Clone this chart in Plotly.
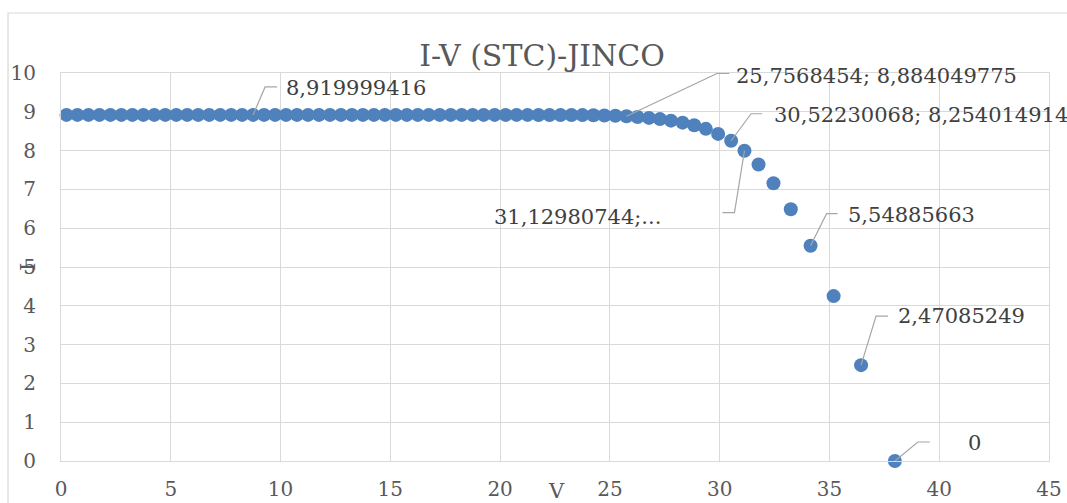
import plotly.graph_objects as go

# I-V curve of the JINCO module at STC
voltage = [
    0.25, 0.75, 1.25, 1.75, 2.25, 2.75, 3.25, 3.75, 4.25, 4.75,
    5.25, 5.75, 6.25, 6.75, 7.25, 7.75, 8.25, 8.75, 9.25, 9.75,
    10.25, 10.75, 11.25, 11.75, 12.25, 12.75, 13.25, 13.75, 14.25, 14.75,
    15.25, 15.75, 16.25, 16.75, 17.25, 17.75, 18.25, 18.75, 19.25, 19.75,
    20.25, 20.75, 21.25, 21.75, 22.25, 22.75, 23.25, 23.75, 24.25, 24.75,
    25.25, 25.7568454, 26.26, 26.78, 27.28, 27.78, 28.31, 28.84, 29.37, 29.93,
    30.52230068, 31.12980744, 31.77, 32.45, 33.24, 34.14, 35.19, 36.44, 37.98,
]
current = [
    8.92, 8.92, 8.92, 8.92, 8.92, 8.92, 8.92, 8.92, 8.92, 8.92,
    8.92, 8.92, 8.92, 8.92, 8.92, 8.92, 8.92, 8.919999416, 8.92, 8.92,
    8.92, 8.92, 8.92, 8.92, 8.92, 8.92, 8.92, 8.92, 8.92, 8.92,
    8.92, 8.92, 8.92, 8.92, 8.92, 8.92, 8.92, 8.92, 8.92, 8.92,
    8.9199, 8.9198, 8.9196, 8.9193, 8.9188, 8.918, 8.9168, 8.915, 8.912, 8.906,
    8.897, 8.884049775, 8.866, 8.843, 8.812, 8.772, 8.72, 8.652, 8.56, 8.43,
    8.254014914, 7.998, 7.64, 7.16, 6.49, 5.54885663, 4.25, 2.47085249, 0,
]

x_ticks = [0, 5, 10, 15, 20, 25, 30, 35, 40, 45]
y_ticks = [0, 1, 2, 3, 4, 5, 6, 7, 8, 9, 10]

# labelled points: index, label kind
labelled = [
    (17, "y"),
    (51, "xy"),
    (60, "xy"),
    (61, "x_cut"),
    (65, "y"),
    (67, "y"),
    (68, "y"),
]

# leader/label geometry in pixels: elbow (dx, dy), end of horizontal tick, text shift
leader_geom = {
    17: dict(elbow=(12, 28), end=24, text=(31, 27), anchor="left"),
    51: dict(elbow=(91, 43), end=103, text=(107, 40), anchor="left"),
    60: dict(elbow=(20, 27), end=31, text=(41, 26), anchor="left"),
    61: dict(elbow=(-10, -62), end=-22, text=(-81, -66), anchor="right"),
    65: dict(elbow=(16, 32), end=27, text=(35, 31), anchor="left"),
    67: dict(elbow=(15, 49), end=27, text=(35, 49), anchor="left"),
    68: dict(elbow=(23, 19), end=35, text=(71, 18), anchor="left"),
}


def fmt(v):
    s = repr(float(v))
    if s.endswith(".0"):
        s = s[:-2]
    return s.replace(".", ",")


def label_text(i, kind):
    if kind == "y":
        return fmt(current[i])
    if kind == "xy":
        return f"{fmt(voltage[i])}; {fmt(current[i])}"
    return f"{fmt(voltage[i])};..."


FONT = "DejaVu Serif"
GRID = "#d9d9d9"
BLUE = "#4f81bd"
LEADER = "#a6a6a6"

fig = go.Figure()
fig.add_trace(go.Scatter(
    x=voltage, y=current, mode="markers",
    marker=dict(size=14, color=BLUE, line=dict(width=0)),
    hoverinfo="x+y", showlegend=False, cliponaxis=False,
))

shapes = []
annotations = []
for i, kind in labelled:
    g = leader_geom[i]
    ex, ey = g["elbow"]
    shapes.append(dict(
        type="path", xref="x", yref="y",
        xsizemode="pixel", ysizemode="pixel",
        xanchor=voltage[i], yanchor=current[i],
        path=f"M0,0L{ex},{ey}L{g['end']},{ey}",
        line=dict(color=LEADER, width=1.2),
        layer="above",
    ))
    tx, ty = g["text"]
    annotations.append(dict(
        x=voltage[i], y=current[i], xref="x", yref="y",
        text=label_text(i, kind), showarrow=False,
        xanchor=g["anchor"], yanchor="middle",
        xshift=tx, yshift=ty,
        font=dict(family=FONT, size=21, color="#404040"),
    ))

# outer chart frame
shapes.append(dict(
    type="rect", xref="paper", yref="paper",
    x0=-0.0536, y0=-0.13, x1=1.03, y1=1.1546,
    line=dict(color=GRID, width=1.2), fillcolor="rgba(0,0,0,0)", layer="below",
))

# axis titles
annotations.append(dict(
    x=0.502, y=-0.078, xref="paper", yref="paper", text="V", showarrow=False,
    xanchor="center", yanchor="middle",
    font=dict(family=FONT, size=21, color="#595959"),
))
annotations.append(dict(
    x=-0.0335, y=0.5, xref="paper", yref="paper", text="I", showarrow=False,
    textangle=-90, xanchor="center", yanchor="middle",
    font=dict(family=FONT, size=21, color="#595959"),
))

fig.update_layout(
    width=1067, height=503,
    margin=dict(l=61, r=18, t=73, b=42),
    paper_bgcolor="white", plot_bgcolor="white",
    title=dict(
        text="I-V (STC)-JINCO", x=0.508, xanchor="center",
        y=1 - 55 / 503, yanchor="middle",
        font=dict(family=FONT, size=30, color="#595959"),
    ),
    xaxis=dict(
        range=[0, 45], tickvals=x_ticks, ticktext=[str(t) for t in x_ticks],
        showgrid=True, gridcolor=GRID, gridwidth=1.2,
        showline=True, linecolor=GRID, linewidth=1.2, mirror=True,
        zeroline=False, ticks="", ticklabelstandoff=10, automargin=False,
        tickfont=dict(family=FONT, size=20, color="#595959"),
        fixedrange=True,
    ),
    yaxis=dict(
        range=[0, 10], tickvals=y_ticks, ticktext=[str(t) for t in y_ticks],
        showgrid=True, gridcolor=GRID, gridwidth=1.2,
        showline=True, linecolor=GRID, linewidth=1.2, mirror=True,
        zeroline=False, ticks="", ticklabelstandoff=20, automargin=False,
        tickfont=dict(family=FONT, size=20, color="#595959"),
        fixedrange=True,
    ),
    shapes=shapes,
    annotations=annotations,
)

fig.write_html("out.html")
